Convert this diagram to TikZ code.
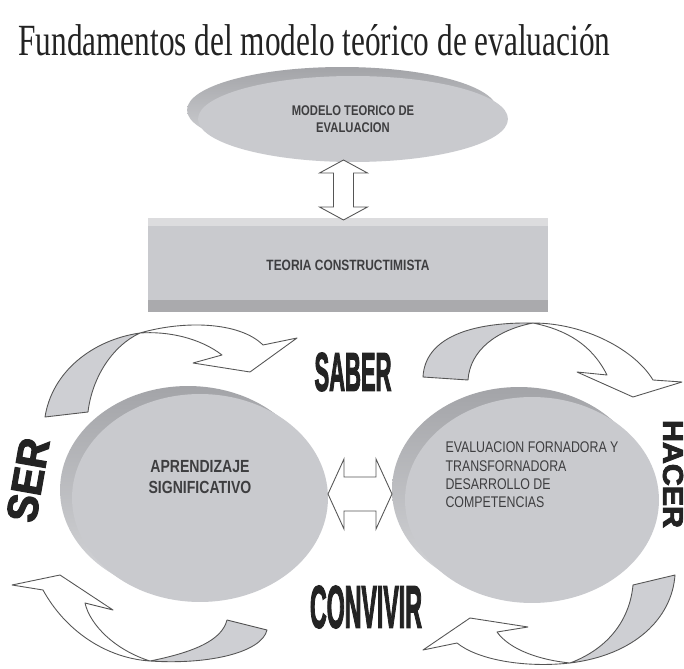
\documentclass[tikz,border=0pt]{standalone}
\usepackage{fontspec}
\setmainfont{Liberation Serif}
\newfontfamily\boxfont[FakeStretch=0.8]{Liberation Sans}
\newfontfamily\wordfont[FakeStretch=0.75, FakeBold=2.5]{Liberation Sans}
\usetikzlibrary{shapes.geometric, positioning, calc}

\definecolor{facegray}{RGB}{201, 202, 206}
\definecolor{sidedark}{RGB}{163, 164, 168}
\definecolor{sidelight}{RGB}{214, 215, 218}
\definecolor{toplight}{RGB}{220, 220, 222}
\definecolor{bottomdark}{RGB}{170, 170, 173}
\definecolor{inkgray}{RGB}{62, 62, 64}
\definecolor{linegray}{RGB}{85, 85, 85}
\definecolor{ribbongray}{RGB}{206, 207, 211}
\definecolor{wordblack}{RGB}{35, 35, 35}

\tikzset{
  face/.style={ellipse, fill=facegray, inner sep=0pt},
  side/.style={ellipse, top color=sidedark, bottom color=sidelight, inner sep=0pt},
  boxtext/.style={text=inkgray, align=center, inner sep=0pt},
  bigarrow/.style={draw=linegray, fill=white, line width=0.5pt, line join=miter},
  ribbon/.style={draw=linegray, line width=0.5pt, fill=white, line join=round},
  ribbonbase/.style={ribbon, fill=ribbongray},
  word/.style={text=wordblack, inner sep=0pt}
}

\begin{document}
\begin{tikzpicture}[x=0.02cm, y=-0.02cm]
  \useasboundingbox (0,0) rectangle (684,669);
  \fill[white] (0,0) rectangle (684,669);

  % Title
  \node[anchor=base west, inner sep=0pt, text=wordblack] (title) at (18,56)
    {\resizebox{11.84cm}{0.62cm}{Fundamentos del modelo teórico de evaluación}};

  % Model on top
  \node[side, minimum width=6.2cm, minimum height=1.72cm] (modelosh) at (342,110) {};
  \node[face, minimum width=6.2cm, minimum height=1.72cm, boxtext,
        font=\boxfont\bfseries\fontsize{8}{9.6}\selectfont] (modelo) at (353,119)
    {MODELO TEORICO DE\\EVALUACION};

  % Constructivist theory
  \node[fill=facegray, minimum width=8cm, minimum height=1.88cm, boxtext,
        font=\boxfont\bfseries\fontsize{8.5}{10}\selectfont] (teoria) at (348,265)
    {TEORIA CONSTRUCTIMISTA};
  \fill[toplight] (teoria.north west) rectangle ($(teoria.north east)+(0,8)$);
  \fill[bottomdark] ($(teoria.south west)+(0,-12)$) rectangle (teoria.south east);

  \coordinate (udmid) at ($(modelo.south)!0.5!(teoria.north)+(-7,0)$);
  \draw[bigarrow] ($(udmid)+(0,-30)$) -- ++(24,13) -- ++(-14,0) -- ++(0,34) -- ++(14,0)
    -- ++(-24,13) -- ++(-24,-13) -- ++(14,0) -- ++(0,-34) -- ++(-14,0) -- cycle;

  % The two discs
  \node[side, minimum width=5.12cm, minimum height=4.16cm] (aprendsh) at (188,490) {};
  \node[face, minimum width=5.12cm, minimum height=4.16cm] (aprend) at (200,498) {};
  \node[boxtext, font=\boxfont\bfseries\fontsize{10}{12}\selectfont] (aprendtxt)
    at ([yshift=0.42cm]aprend.center) {APRENDIZAJE\\SIGNIFICATIVO};

  \node[side, minimum width=5.08cm, minimum height=4.12cm] (evaluash) at (519,490) {};
  \node[face, minimum width=5.08cm, minimum height=4.12cm] (evalua) at (532,500) {};
  \node[boxtext, align=left, font=\boxfont\fontsize{8.8}{10.5}\selectfont] (evaluatxt)
    at ([yshift=0.5cm]evalua.center)
    {EVALUACION FORNADORA Y\\TRANSFORNADORA\\DESARROLLO DE\\COMPETENCIAS};

  \coordinate (lrmid) at ($(aprend.east)!0.5!(evaluash.west)$);
  \draw[bigarrow] ($(lrmid)+(-32,0)$) -- ++(16,-35) -- ++(0,18) -- ++(32,0) -- ++(0,-18)
    -- ++(16,35) -- ++(-16,35) -- ++(0,-18) -- ++(-32,0) -- ++(0,18) -- cycle;

  % Curved arrows of the cycle
  \draw[ribbonbase] (45,417) .. controls (52,372) and (92,340) .. (140,333)
    .. controls (112,346) and (92,378) .. (88,412) -- cycle;
  \draw[ribbon] (140,333) .. controls (185,320) and (240,322) .. (263,345)
    -- (297,338) -- (250,372) -- (193,363) -- (222,355)
    .. controls (200,338) and (168,331) .. (140,333) -- cycle;

  \draw[ribbonbase] (423,377) .. controls (425,338) and (470,322) .. (533,323)
    .. controls (497,330) and (470,350) .. (468,380) -- cycle;
  \draw[ribbon] (533,323) .. controls (585,323) and (635,350) .. (653,380)
    -- (682,382) -- (633,397) -- (577,372) -- (607,375)
    .. controls (592,345) and (567,330) .. (533,323) -- cycle;

  \draw[ribbonbase] (675,575) .. controls (672,618) and (635,655) .. (570,663)
    .. controls (610,648) and (630,618) .. (633,585) -- cycle;
  \draw[ribbon] (570,663) .. controls (525,668) and (478,660) .. (457,643)
    -- (423,650) -- (470,618) -- (528,627) -- (497,632)
    .. controls (510,650) and (540,660) .. (570,663) -- cycle;

  \draw[ribbonbase] (267,630) .. controls (262,652) and (210,665) .. (150,661)
    .. controls (195,652) and (222,640) .. (227,620) -- cycle;
  \draw[ribbon] (150,661) .. controls (105,658) and (65,630) .. (43,590)
    -- (12,585) -- (60,575) -- (113,610) -- (85,603)
    .. controls (90,625) and (115,650) .. (150,661) -- cycle;

  % Words round the cycle
  \node[word] (saber) at (353,372) {\resizebox{1.54cm}{0.76cm}{\wordfont\bfseries SABER}};
  \node[word, rotate=-90] (hacer) at (673,474) {\resizebox{2.16cm}{0.4cm}{\wordfont\bfseries HACER}};
  \node[word] (convivir) at (366,607) {\resizebox{2.24cm}{0.84cm}{\wordfont\bfseries CONVIVIR}};
  \node[word, rotate=80] (ser) at (28,480) {\resizebox{1.68cm}{0.6cm}{\wordfont\bfseries SER}};
\end{tikzpicture}
\end{document}
